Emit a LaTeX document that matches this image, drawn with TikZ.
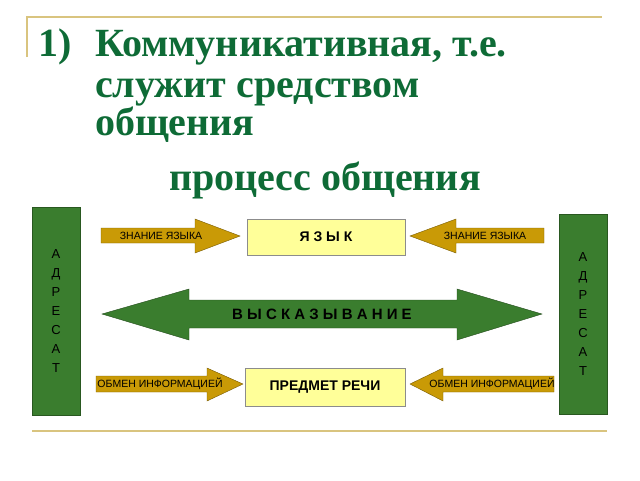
\documentclass[tikz,border=0pt]{standalone}
\usepackage{fontspec}
\setmainfont{Liberation Serif}
\setsansfont{Liberation Sans}
\usetikzlibrary{positioning}
\definecolor{ttl}{HTML}{0E6B36}
\definecolor{gld}{HTML}{D9C47F}
\definecolor{arrg}{HTML}{C99A06}
\definecolor{grn}{HTML}{3A7D2E}
\definecolor{pale}{HTML}{FFFF99}

\begin{document}
\begin{tikzpicture}[x=1pt, y=-1pt, font=\sffamily]
      \tikzstyle{title} = [anchor=base west, inner sep=0pt, text=ttl, font=\rmfamily\bfseries\fontsize{40}{40}\selectfont]
      \tikzstyle{addr} = [rectangle, draw=grn!70!black, fill=grn, minimum width=48pt, text width=10pt, align=center, font=\sffamily\fontsize{13}{19}\selectfont]
      \tikzstyle{box} = [rectangle, draw=black!45, fill=pale, font=\sffamily\bfseries\fontsize{14}{14}\selectfont]
      \tikzstyle{goldarrow} = [draw=arrg!60!black, fill=arrg]
      \tikzstyle{lab} = [inner sep=0pt, font=\sffamily\fontsize{10.5}{10}\selectfont]

      \useasboundingbox (0,0) rectangle (640,480);
      \draw[gld, line width=2pt] (27,57) -- (27,17) -- (602,17);
      \draw[gld, line width=2pt] (32,431) -- (607,431);

      \node[title] (num) at (38,56) {1)};
      \node[title] (l1) at (95,56) {Коммуникативная, т.е.};
      \node[title] (l2) at (95,97) {служит средством};
      \node[title] (l3) at (95,135) {общения};
      \node[title, anchor=base] (proc) at (325,190) {процесс общения};

      \node[addr, minimum height=208pt] (left) at (56,311) {А\\Д\\Р\\Е\\С\\А\\Т};
      \node[addr, minimum height=200pt] (right) at (583,314) {А\\Д\\Р\\Е\\С\\А\\Т};

      \node[box, minimum width=158pt, minimum height=36pt] (lang) at (326,237) {Я З Ы К};
      \node[box, minimum width=160pt, minimum height=38pt] (subj) at (325,387) {ПРЕДМЕТ РЕЧИ};

      % gold arrows
      \draw[goldarrow] (101,228) -- (195,228) -- (195,219) -- (240,236) -- (195,253) -- (195,243) -- (101,243) -- cycle;
      \draw[goldarrow] (544,228) -- (456,228) -- (456,219) -- (410,236) -- (456,253) -- (456,243) -- (544,243) -- cycle;
      \draw[goldarrow] (96,376) -- (207,376) -- (207,368) -- (243,384) -- (207,401) -- (207,392) -- (96,392) -- cycle;
      \draw[goldarrow] (554,376) -- (443,376) -- (443,368) -- (410,384) -- (443,401) -- (443,392) -- (554,392) -- cycle;
      \node[lab] (k1) at (161,236) {ЗНАНИЕ ЯЗЫКА};
      \node[lab] (k2) at (485,236) {ЗНАНИЕ ЯЗЫКА};
      \node[lab] (o1) at (160,384) {ОБМЕН ИНФОРМАЦИЕЙ};
      \node[lab] (o2) at (492,384) {ОБМЕН ИНФОРМАЦИЕЙ};

      % double arrow
      \draw[draw=grn!60!black, fill=grn] (102,314) -- (189,289) -- (189,300) -- (457,300) -- (457,289) -- (542,314) -- (457,340) -- (457,328) -- (189,328) -- (189,340) -- cycle;
      \node[font=\sffamily\bfseries\fontsize{15}{15}\selectfont] (utt) at (322,314) {В Ы С К А З Ы В А Н И Е};
\end{tikzpicture}
\end{document}
